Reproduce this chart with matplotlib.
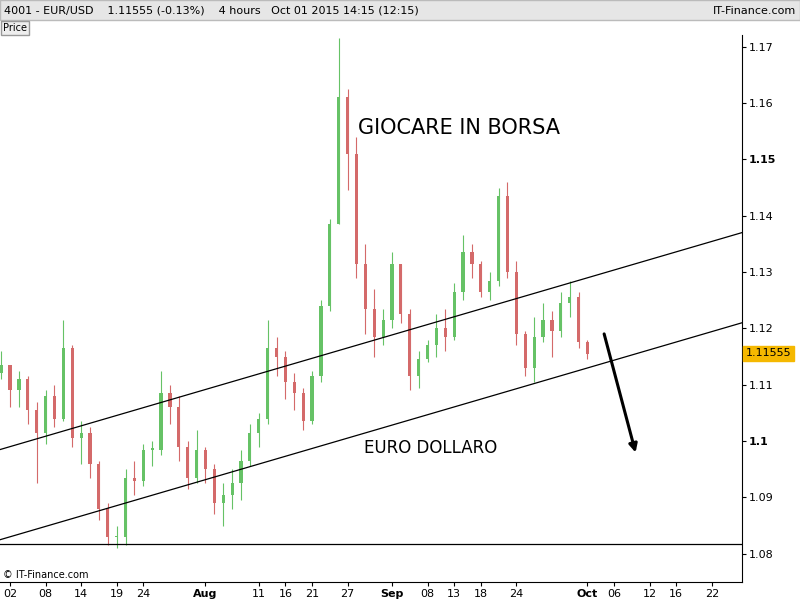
import matplotlib
matplotlib.use("Agg")
import matplotlib.pyplot as plt
from matplotlib.patches import Rectangle

# Trading-day index: -1 = Jul 01 2015, 65 = Oct 01 2015
closes = [1.1135,1.1090,1.1110,1.1055,1.1015,1.1080,1.1040,1.1165,1.1005,1.1015,1.0960,1.0880,1.0830,1.0830,
          1.0935,1.0930,1.0985,1.0985,1.1085,1.1060,1.0990,1.0935,1.0985,1.0950,1.0890,1.0905,1.0925,1.0965,
          1.1015,1.1040,1.1165,1.1150,1.1105,1.1085,1.1035,1.1115,1.1240,1.1385,1.1610,1.1510,1.1315,1.1235,
          1.1185,1.1215,1.1315,1.1225,1.1115,1.1145,1.1170,1.1200,1.1185,1.1265,1.1335,1.1315,1.1265,1.1285,
          1.1435,1.1300,1.1190,1.1130,1.1185,1.1215,1.1195,1.1245,1.1255,1.1175,1.1155]
highs = [1.1160,1.1130,1.1125,1.1115,1.1070,1.1090,1.1100,1.1215,1.1170,1.1035,1.1025,1.0965,1.0890,1.0850,
         1.0950,1.0965,1.0995,1.1000,1.1125,1.1100,1.1080,1.1000,1.1020,1.0990,1.0960,1.0925,1.0950,1.0985,
         1.1030,1.1050,1.1215,1.1185,1.1160,1.1120,1.1095,1.1125,1.1250,1.1395,1.1715,1.1625,1.1540,1.1350,
         1.1270,1.1235,1.1335,1.1315,1.1235,1.1160,1.1180,1.1225,1.1235,1.1280,1.1365,1.1350,1.1320,1.1300,
         1.1450,1.1460,1.1320,1.1195,1.1220,1.1245,1.1230,1.1265,1.1285,1.1265,1.1180]
lows = [1.1110,1.1060,1.1060,1.1030,1.0925,1.0995,1.1025,1.1035,1.0990,1.0960,1.0935,1.0860,1.0815,1.0810,
        1.0815,1.0905,1.0920,1.0955,1.0975,1.1030,1.0965,1.0915,1.0925,1.0925,1.0870,1.0850,1.0880,1.0895,
        1.0955,1.0990,1.1030,1.1115,1.1075,1.1055,1.1020,1.1030,1.1105,1.1230,1.1385,1.1445,1.1290,1.1190,
        1.1150,1.1170,1.1200,1.1210,1.1090,1.1095,1.1140,1.1150,1.1160,1.1180,1.1250,1.1290,1.1255,1.1250,
        1.1275,1.1290,1.1170,1.1115,1.1105,1.1175,1.1150,1.1185,1.1220,1.1165,1.1145]
first_open = 1.1120
tick_pos = [0,4,8,12,15,22,28,31,34,38,43,47,50,53,57,65,68,72,75,79]
tick_labels = ["02","08","14","19","24","Aug","11","16","21","27","Sep","08","13","18","24","Oct","06","12","16","22"]
upper_line = [(-1.13, 1.0985), (82.4, 1.1370)]
lower_line = [(-1.13, 1.0825), (82.4, 1.1210)]
support = 1.0818
last_price = 1.11555

fig = plt.figure(figsize=(8, 6), dpi=100)
ax = fig.add_axes([0.0, 0.03, 0.9275, 0.912])
xmin, xmax = -1.13, 82.4
ax.set_xlim(xmin, xmax)
ax.set_ylim(1.0750, 1.1721)

opens = [first_open] + closes[:-1]
for i, (o, h, l, c) in enumerate(zip(opens, highs, lows, closes)):
    x = i - 1
    col = "#66c266" if c >= o else "#d46a6a"
    ax.vlines(x, min(l, o, c), max(h, o, c), color=col, lw=0.8)
    ax.add_patch(Rectangle((x - 0.18, min(o, c)), 0.36, max(abs(c - o), 0.0002), color=col, lw=0))

for ln in (upper_line, lower_line):
    ax.plot([ln[0][0], ln[1][0]], [ln[0][1], ln[1][1]], color="black", lw=0.9)
ax.axhline(support, color="black", lw=0.9)
ax.annotate("", xy=(70.5, 1.0975), xytext=(66.8, 1.1195),
            arrowprops=dict(arrowstyle="-|>", color="black", lw=2.2, mutation_scale=12))
ax.text(39.2, 1.1555, "GIOCARE IN BORSA", fontsize=15, va="center")
ax.text(39.9, 1.0987, "EURO DOLLARO", fontsize=12, va="center")

ax.yaxis.tick_right()
ax.set_yticks([1.08,1.09,1.10,1.11,1.12,1.13,1.14,1.15,1.16,1.17])
ax.set_yticklabels(["1.08","1.09","1.1","1.11","1.12","1.13","1.14","1.15","1.16","1.17"], fontsize=8)
for lbl in ax.get_yticklabels():
    if lbl.get_text() in ("1.1", "1.15"):
        lbl.set_fontweight("bold")
ax.set_xticks(tick_pos)
ax.set_xticklabels(tick_labels, fontsize=8)
for lbl in ax.get_xticklabels():
    if lbl.get_text() in ("Aug", "Sep", "Oct"):
        lbl.set_fontweight("bold")
ax.tick_params(length=3, pad=2)
for s in ("top", "left"):
    ax.spines[s].set_visible(False)

ax.text(1.005, (last_price - 1.0750) / (1.1721 - 1.0750), "1.11555", transform=ax.transAxes,
        fontsize=8, va="center", ha="left", bbox=dict(boxstyle="square,pad=0.2", fc="#f5b800", ec="#f5b800"))

fig.patches.append(Rectangle((0, 0.967), 1, 0.033, transform=fig.transFigure, fc="#e6e6e6", ec="#bbbbbb"))
fig.text(0.005, 0.982, "4001 - EUR/USD    1.11555 (-0.13%)    4 hours   Oct 01 2015 14:15 (12:15)",
         fontsize=8, va="center")
fig.text(0.995, 0.982, "IT-Finance.com", fontsize=8, va="center", ha="right")
fig.text(0.004, 0.954, "Price", fontsize=7, va="center",
         bbox=dict(boxstyle="square,pad=0.2", fc="#eeeeee", ec="#999999"))
fig.text(0.004, 0.042, "© IT-Finance.com", fontsize=7, va="center")
fig.savefig("out.png", dpi=100)
